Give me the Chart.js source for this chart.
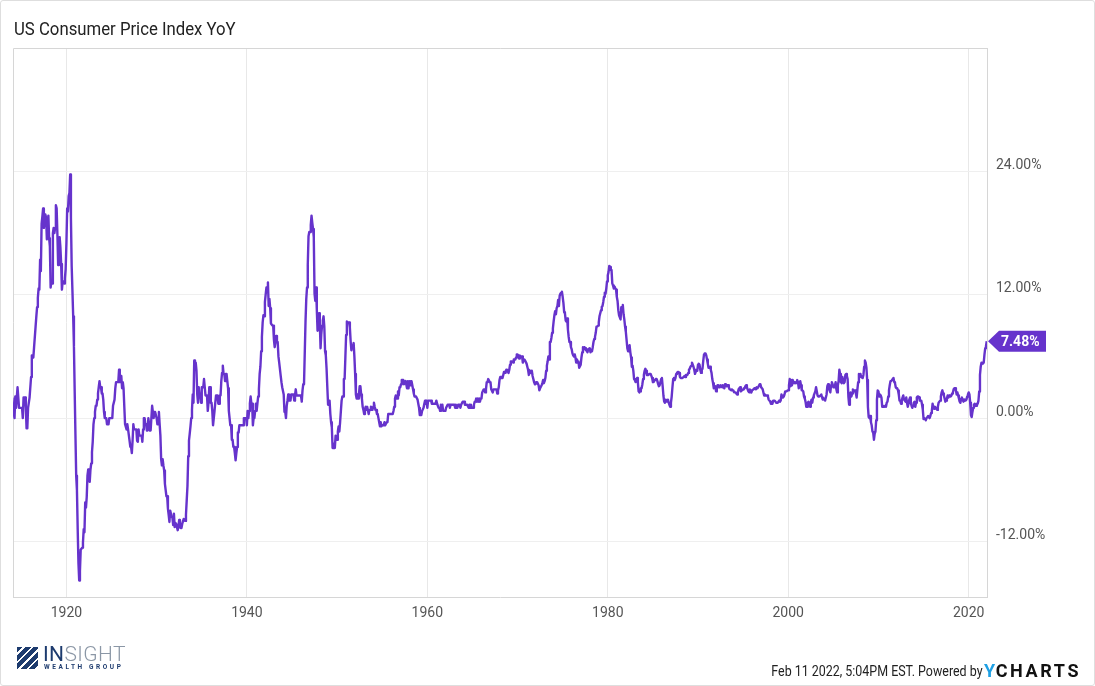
<!DOCTYPE html>
<html>
<head>
    <title>US Consumer Price Index YoY</title>
    <script src="https://cdn.jsdelivr.net/npm/chart.js"></script>
    <style>
        body { margin: 0; background: #fff; }
        #wrap { position: relative; width: 1095px; height: 686px; overflow: hidden; }
        #frame { position: absolute; left: 0; top: 0; width: 1095px; height: 686px; box-sizing: border-box; border: 1px solid #dedede; border-radius: 3px; pointer-events: none; }
        #title { position: absolute; left: 14px; top: 18px; font: 18px/21px Roboto, sans-serif; color: #222; transform: scaleX(0.93); transform-origin: left top; white-space: nowrap; }
        #stamp { position: absolute; right: 112px; top: 662px; font: 15px/18px Roboto, sans-serif; color: #222; transform: scaleX(0.83); transform-origin: right top; white-space: nowrap; }
        #ycharts { position: absolute; left: 984px; top: 660px; font: bold 18px/21px Roboto, sans-serif; letter-spacing: 2.6px; color: #111; white-space: nowrap; }
        #ycharts span { color: #1ea0e4; letter-spacing: 0.5px; }
        #logo { position: absolute; left: 17px; top: 647px; }
        #logo .mark { position: absolute; left: 0; top: 0; width: 21px; height: 22px; background: repeating-linear-gradient(135deg, #1d3b6e 0 4px, #fff 4px 6px); }
        #logo .name { position: absolute; left: 26px; top: -4px; font: 300 21px/22px Roboto, sans-serif; letter-spacing: 0.4px; white-space: nowrap; }
        #logo .name b { font-weight: 400; color: #1d3b6e; }
        #logo .name i { font-style: normal; color: #8b97a6; }
        #logo .sub { position: absolute; left: 27px; top: 16px; font: bold 6.5px/8px Roboto, sans-serif; letter-spacing: 2.6px; color: #1d3b6e; white-space: nowrap; }
    </style>
</head>
<body>
<div id="wrap">
    <canvas id="cpiChart" width="1095" height="686"></canvas>
    <div id="title">US Consumer Price Index YoY</div>
    <div id="logo">
        <div class="mark"></div>
        <div class="name"><b>IN</b><i>SIGHT</i></div>
        <div class="sub">WEALTH GROUP</div>
    </div>
    <div id="stamp">Feb 11 2022, 5:04PM EST. Powered by</div>
    <div id="ycharts"><span>Y</span>CHARTS</div>
    <div id="frame"></div>
</div>

<script>
    // Monthly YoY change (%), one array per decade, first value = Jan 1914
    const startYear = 1914;
    const yoy1910s = [
        2.0, 1.0, 1.0, 0.0, 2.1, 1.0, 1.0, 3.0, 2.0, 1.0, 1.0, 1.0,
        1.0, 1.0, 0.0, 2.0, 2.0, 2.0, 1.0, -1.0, -1.0, 1.0, 1.0, 2.0,
        3.0, 4.0, 6.1, 6.0, 5.9, 6.9, 6.9, 8.9, 9.9, 10.8, 11.7, 12.6,
        12.5, 15.4, 14.3, 18.9, 19.6, 20.4, 18.5, 19.3, 19.8, 19.5, 17.4, 18.1,
        19.7, 17.5, 16.7, 12.7, 13.3, 13.1, 18.0, 18.5, 18.0, 18.5, 20.7, 20.4,
        17.9, 14.9, 17.1, 17.6, 16.6, 15.0, 12.5, 13.3, 13.3, 13.1, 13.6, 14.5
    ];
    const yoy1920s = [
        17.0, 20.4, 20.1, 21.6, 21.9, 23.7, 19.5, 14.8, 12.4, 9.9, 7.0, 2.6,
        -1.6, -5.6, -7.0, -10.8, -14.1, -15.8, -14.9, -12.8, -12.7, -12.6, -12.1, -10.8,
        -11.1, -8.2, -8.7, -7.7, -5.6, -5.0, -5.2, -6.2, -5.0, -4.4, -3.3, -2.3,
        -0.6, 0.0, 0.6, 1.2, 1.2, 1.8, 2.4, 3.0, 3.6, 3.0, 3.0, 2.4,
        2.4, 1.8, 0.6, 0.0, 0.0, 0.0, -0.6, -0.6, -0.6, 0.0, 0.0, 0.0,
        0.0, 0.0, 1.2, 1.2, 1.8, 2.9, 3.5, 3.5, 3.5, 3.5, 4.7, 3.5,
        3.5, 4.1, 2.9, 3.5, 2.9, 1.1, -0.6, -0.6, -1.1, -0.6, -1.1, -1.1,
        -2.2, -2.8, -2.8, -3.4, -2.2, -0.6, -1.1, -1.1, -1.1, -1.1, -2.2, -2.3,
        -1.1, -1.7, -1.7, -1.7, -1.7, -2.3, -1.1, 0.0, 0.0, -0.6, -0.6, -1.2,
        -1.2, 0.0, -0.6, -1.2, -1.2, 0.0, 1.2, 1.2, 0.0, 0.6, 0.6, 0.6
    ];
    const yoy1930s = [
        0.0, -0.6, -0.6, 0.6, -0.6, -1.7, -4.0, -4.6, -4.0, -4.6, -5.1, -6.4,
        -7.0, -7.6, -7.6, -8.8, -9.4, -10.1, -9.0, -9.0, -9.6, -9.7, -10.4, -9.3,
        -10.6, -10.2, -10.3, -10.3, -10.9, -10.5, -9.9, -10.6, -10.7, -10.7, -10.3, -10.3,
        -9.8, -9.9, -10.0, -9.4, -8.0, -6.6, -3.7, -2.2, -1.5, -0.8, 0.0, 0.8,
        2.3, 1.5, 5.6, 5.4, 5.4, 4.6, 2.3, 1.5, 3.0, 2.3, 2.3, 1.5,
        3.0, 3.0, 3.0, 3.8, 3.8, 2.2, 2.2, 2.2, 0.7, 1.5, 3.0, 3.0,
        1.5, 1.5, 0.7, -0.7, -0.7, 0.7, 1.5, 2.2, 2.2, 2.2, 1.4, 1.4,
        2.2, 2.2, 3.6, 4.4, 5.1, 4.3, 4.3, 3.6, 4.3, 4.3, 3.6, 2.9,
        0.7, 0.0, -0.7, -0.7, -2.1, -2.1, -2.8, -2.8, -3.4, -4.1, -3.4, -2.8,
        -1.4, -1.4, -0.7, -0.7, -0.7, -0.7, -0.7, -0.7, 0.0, 0.0, 0.0, 0.0
    ];
    const yoy1940s = [
        -0.7, 0.7, 0.0, 0.7, 1.4, 2.1, 1.4, 1.4, -0.7, 0.0, 0.0, 0.7,
        1.4, 0.7, 1.4, 2.1, 2.8, 4.3, 5.0, 6.5, 7.9, 9.3, 10.0, 9.9,
        11.3, 12.0, 12.7, 12.6, 13.2, 10.9, 11.6, 10.7, 9.2, 9.1, 9.0, 9.0,
        7.6, 6.9, 7.4, 8.0, 7.4, 7.4, 6.0, 5.4, 5.4, 4.1, 3.5, 3.0,
        3.0, 2.3, 0.6, 0.6, 0.0, 1.2, 1.7, 2.3, 1.7, 1.7, 1.7, 2.3,
        2.3, 2.3, 2.3, 1.7, 2.2, 2.8, 2.2, 2.2, 2.2, 2.2, 2.2, 2.2,
        2.2, 1.6, 2.7, 3.3, 3.3, 3.3, 9.4, 11.6, 12.7, 14.9, 17.7, 18.1,
        18.1, 18.8, 19.7, 19.0, 18.4, 17.6, 12.1, 11.4, 12.7, 10.6, 8.5, 8.8,
        10.2, 9.3, 6.8, 8.2, 9.0, 9.5, 9.9, 8.9, 6.5, 6.1, 4.8, 3.0,
        1.3, 1.3, 1.7, 0.4, -0.4, -0.9, -2.9, -2.9, -2.5, -2.9, -1.7, -2.1
    ];
    const yoy1950s = [
        -2.1, -1.3, -0.8, -1.3, -0.4, -0.4, 1.7, 2.1, 2.1, 3.8, 3.8, 5.9,
        8.1, 9.4, 9.3, 9.3, 9.3, 8.8, 7.5, 6.6, 7.0, 6.9, 7.3, 6.0,
        4.3, 2.3, 1.9, 2.3, 1.9, 2.3, 3.1, 3.1, 2.3, 1.9, 1.1, 0.8,
        0.4, 0.8, 1.1, 0.8, 1.1, 1.1, 0.4, 0.8, 0.8, 1.1, 0.8, 0.8,
        1.1, 1.5, 1.1, 0.8, 0.8, 0.4, 0.4, 0.0, -0.4, -0.8, -0.4, -0.8,
        -0.7, -0.7, -0.7, -0.4, -0.7, -0.7, -0.4, -0.4, 0.4, 0.4, 0.4, 0.4,
        0.4, 0.4, 0.4, 0.7, 1.1, 1.9, 2.2, 1.9, 1.9, 2.6, 2.2, 3.0,
        3.0, 3.3, 3.7, 3.7, 3.7, 3.3, 3.3, 3.6, 3.3, 2.9, 3.6, 2.9,
        3.6, 3.2, 3.6, 3.6, 3.2, 2.8, 2.4, 2.1, 2.1, 2.1, 2.1, 1.8,
        1.4, 1.0, 0.3, 0.3, 0.3, 0.7, 0.7, 1.0, 1.4, 1.7, 1.4, 1.7
    ];
    const yoy1960s = [
        1.0, 1.7, 1.7, 1.7, 1.7, 1.7, 1.4, 1.4, 1.4, 1.4, 1.4, 1.4,
        1.7, 1.4, 1.4, 1.0, 1.0, 0.7, 1.3, 1.0, 1.3, 0.7, 0.7, 0.7,
        0.7, 1.0, 1.0, 1.3, 1.3, 1.3, 1.0, 1.3, 1.3, 1.3, 1.3, 1.3,
        1.3, 1.0, 1.3, 1.0, 1.0, 1.3, 1.3, 1.3, 1.0, 1.3, 1.3, 1.6,
        1.6, 1.6, 1.3, 1.3, 1.3, 1.3, 1.3, 1.0, 1.3, 1.0, 1.3, 1.0,
        1.0, 1.0, 1.3, 1.6, 1.6, 1.9, 1.6, 1.9, 1.6, 1.9, 1.6, 1.9,
        1.9, 2.5, 2.5, 2.8, 2.8, 2.5, 2.8, 3.5, 3.5, 3.8, 3.8, 3.5,
        3.5, 2.8, 2.8, 2.5, 2.8, 2.8, 2.8, 2.8, 2.8, 2.4, 2.7, 3.0,
        3.7, 4.0, 4.0, 3.9, 3.9, 4.2, 4.5, 4.4, 4.4, 4.7, 4.7, 4.7,
        4.4, 4.7, 5.2, 5.5, 5.5, 5.5, 5.4, 5.7, 5.7, 5.7, 5.9, 6.2
    ];
    const yoy1970s = [
        6.2, 6.1, 5.8, 6.1, 6.0, 6.0, 6.0, 5.4, 5.7, 5.7, 5.6, 5.6,
        5.3, 5.0, 4.7, 4.2, 4.4, 4.6, 4.4, 4.6, 4.1, 3.8, 3.5, 3.3,
        3.3, 3.5, 3.5, 3.5, 3.2, 2.7, 2.9, 2.9, 3.2, 3.4, 3.7, 3.4,
        3.6, 3.9, 4.6, 5.1, 5.5, 6.0, 5.7, 7.4, 7.4, 7.8, 8.3, 8.7,
        9.4, 10.0, 10.4, 10.1, 10.7, 10.9, 11.5, 10.9, 11.9, 12.1, 12.2, 12.3,
        11.8, 11.2, 10.3, 10.2, 9.5, 9.4, 9.7, 8.6, 7.9, 7.4, 7.4, 6.9,
        6.7, 6.3, 6.1, 6.0, 6.2, 5.9, 5.4, 5.7, 5.5, 5.5, 4.9, 4.9,
        5.2, 5.9, 6.4, 6.9, 6.7, 6.9, 6.8, 6.6, 6.6, 6.4, 6.7, 6.7,
        6.8, 6.4, 6.6, 6.5, 6.9, 7.4, 7.7, 7.9, 8.3, 8.9, 8.9, 9.0,
        9.3, 9.9, 10.2, 10.5, 10.8, 10.9, 11.3, 11.8, 12.2, 12.1, 12.6, 13.3
    ];
    const yoy1980s = [
        13.9, 14.2, 14.8, 14.7, 14.4, 14.4, 13.1, 12.9, 12.6, 12.8, 12.6, 12.5,
        11.8, 11.4, 10.5, 10.0, 9.8, 9.6, 10.8, 10.8, 11.0, 10.1, 9.6, 8.9,
        8.4, 7.6, 6.8, 6.5, 6.7, 7.1, 6.4, 5.9, 5.0, 5.1, 4.6, 3.8,
        3.7, 3.5, 3.6, 3.9, 3.5, 2.6, 2.5, 2.6, 2.9, 2.9, 3.3, 3.8,
        4.2, 4.6, 4.8, 4.6, 4.2, 4.2, 4.2, 4.3, 4.3, 4.3, 4.1, 3.9,
        3.5, 3.5, 3.7, 3.7, 3.8, 3.8, 3.6, 3.3, 3.1, 3.2, 3.5, 3.8,
        3.9, 3.1, 2.2, 1.6, 1.5, 1.8, 1.6, 1.6, 1.8, 1.5, 1.3, 1.1,
        1.5, 2.1, 3.0, 3.8, 3.9, 3.7, 3.9, 4.3, 4.4, 4.5, 4.5, 4.4,
        4.0, 3.9, 3.9, 3.9, 3.9, 4.0, 4.1, 4.0, 4.2, 4.2, 4.2, 4.4,
        4.7, 4.8, 5.0, 5.1, 5.4, 5.2, 5.0, 4.7, 4.3, 4.5, 4.7, 4.6
    ];
    const yoy1990s = [
        5.2, 5.3, 5.2, 4.7, 4.4, 4.7, 4.8, 5.6, 6.2, 6.3, 6.3, 6.1,
        5.7, 5.3, 4.9, 4.9, 5.0, 4.7, 4.4, 3.8, 3.4, 2.9, 3.0, 3.1,
        2.6, 2.8, 3.2, 3.2, 3.0, 3.1, 3.2, 3.1, 3.0, 3.2, 3.0, 2.9,
        3.3, 3.2, 3.1, 3.2, 3.2, 3.0, 2.8, 2.8, 2.7, 2.8, 2.7, 2.7,
        2.5, 2.5, 2.5, 2.4, 2.3, 2.5, 2.8, 2.9, 3.0, 2.6, 2.7, 2.7,
        2.8, 2.9, 2.9, 3.1, 3.2, 3.0, 2.8, 2.6, 2.5, 2.8, 2.6, 2.5,
        2.7, 2.7, 2.8, 2.9, 2.9, 2.8, 3.0, 2.9, 3.0, 3.0, 3.3, 3.3,
        3.0, 3.0, 2.8, 2.5, 2.2, 2.3, 2.2, 2.2, 2.2, 2.1, 1.8, 1.7,
        1.6, 1.4, 1.4, 1.4, 1.7, 1.7, 1.7, 1.6, 1.5, 1.5, 1.5, 1.6,
        1.7, 1.6, 1.7, 2.3, 2.1, 2.0, 2.1, 2.3, 2.6, 2.6, 2.6, 2.7
    ];
    const yoy2000s = [
        2.7, 3.2, 3.8, 3.1, 3.2, 3.7, 3.7, 3.4, 3.5, 3.4, 3.4, 3.4,
        3.7, 3.5, 2.9, 3.3, 3.6, 3.2, 2.7, 2.7, 2.6, 2.1, 1.9, 1.6,
        1.1, 1.1, 1.5, 1.6, 1.2, 1.1, 1.5, 1.8, 1.5, 2.0, 2.2, 2.4,
        2.6, 3.0, 3.0, 2.2, 2.1, 2.1, 2.1, 2.2, 2.3, 2.0, 1.8, 1.9,
        1.9, 1.7, 1.7, 2.3, 3.1, 3.3, 3.0, 2.7, 2.5, 3.2, 3.5, 3.3,
        3.0, 3.0, 3.1, 3.5, 2.8, 2.5, 3.2, 3.6, 4.7, 4.3, 3.5, 3.4,
        4.0, 3.6, 3.4, 3.5, 4.2, 4.3, 4.1, 3.8, 2.1, 1.3, 2.0, 2.5,
        2.1, 2.4, 2.8, 2.6, 2.7, 2.7, 2.4, 2.0, 2.8, 3.5, 4.3, 4.1,
        4.3, 4.0, 4.0, 3.9, 4.2, 5.0, 5.6, 5.4, 4.9, 3.7, 1.1, 0.1,
        0.0, 0.2, -0.4, -0.7, -1.3, -1.4, -2.1, -1.5, -1.3, -0.2, 1.8, 2.7
    ];
    const yoy2010s = [
        2.6, 2.1, 2.3, 2.2, 2.0, 1.1, 1.2, 1.1, 1.1, 1.2, 1.1, 1.5,
        1.6, 2.1, 2.7, 3.2, 3.6, 3.6, 3.6, 3.8, 3.9, 3.5, 3.4, 3.0,
        2.9, 2.9, 2.7, 2.3, 1.7, 1.7, 1.4, 1.7, 2.0, 2.2, 1.8, 1.7,
        1.6, 2.0, 1.5, 1.1, 1.4, 1.8, 2.0, 1.5, 1.2, 1.0, 1.2, 1.5,
        1.6, 1.1, 1.5, 2.0, 2.1, 2.1, 2.0, 1.7, 1.7, 1.7, 1.3, 0.8,
        -0.1, 0.0, -0.1, -0.2, 0.0, 0.1, 0.2, 0.2, 0.0, 0.2, 0.5, 0.7,
        1.4, 1.0, 0.9, 1.1, 1.0, 1.0, 0.8, 1.1, 1.5, 1.6, 1.7, 2.1,
        2.5, 2.7, 2.4, 2.2, 1.9, 1.6, 1.7, 1.9, 2.2, 2.0, 2.2, 2.1,
        2.1, 2.2, 2.4, 2.5, 2.8, 2.9, 2.9, 2.7, 2.3, 2.5, 2.2, 1.9,
        1.6, 1.5, 1.9, 2.0, 1.8, 1.6, 1.8, 1.7, 1.7, 1.8, 2.1, 2.3
    ];
    const yoy2020s = [
        2.5, 2.3, 1.5, 0.3, 0.1, 0.6, 1.0, 1.3, 1.4, 1.2, 1.2, 1.4,
        1.4, 1.7, 2.6, 4.2, 5.0, 5.4, 5.4, 5.3, 5.4, 6.2, 6.8, 7.0,
        7.48
    ];

    const xTicks = [1920, 1940, 1960, 1980, 2000, 2020];
    const yTicks = [-12, 0, 12, 24];

    const allValues = [].concat(yoy1910s, yoy1920s, yoy1930s, yoy1940s, yoy1950s,
        yoy1960s, yoy1970s, yoy1980s, yoy1990s, yoy2000s, yoy2010s, yoy2020s);
    const points = allValues.map((v, i) => ({ x: startYear + i / 12, y: v }));

    const lineColor = '#6633cc';

    // frame round the plot area (left + top edges)
    const framePlugin = {
        id: 'frame',
        beforeDatasetsDraw(chart) {
            const a = chart.chartArea, c = chart.ctx;
            c.save();
            c.strokeStyle = '#d6d6d6';
            c.lineWidth = 1;
            c.beginPath();
            c.moveTo(a.left + 0.5, a.bottom);
            c.lineTo(a.left + 0.5, a.top + 0.5);
            c.lineTo(a.right, a.top + 0.5);
            c.stroke();
            c.restore();
        }
    };

    // last value tag on the right axis
    const lastTag = {
        id: 'lastTag',
        afterDatasetsDraw(chart) {
            const meta = chart.getDatasetMeta(0);
            const pt = meta.data[meta.data.length - 1];
            const val = allValues[allValues.length - 1];
            const c = chart.ctx, x0 = chart.chartArea.right + 1, y = pt.y;
            c.save();
            c.fillStyle = lineColor;
            c.beginPath();
            c.moveTo(x0, y);
            c.lineTo(x0 + 11, y - 10.5);
            c.lineTo(1046, y - 10.5);
            c.lineTo(1046, y + 10.5);
            c.lineTo(x0 + 11, y + 10.5);
            c.closePath();
            c.fill();
            c.fillStyle = '#fff';
            c.font = 'bold 14px Roboto';
            c.textBaseline = 'middle';
            c.textAlign = 'left';
            c.fillText(val.toFixed(2) + '%', x0 + 13, y + 1);
            c.restore();
        }
    };

    const ctx = document.getElementById('cpiChart').getContext('2d');
    new Chart(ctx, {
        type: 'line',
        data: {
            datasets: [{
                data: points,
                borderColor: lineColor,
                borderWidth: 2.4,
                borderJoinStyle: 'round',
                pointRadius: 0,
                tension: 0,
                fill: false
            }]
        },
        options: {
            responsive: false,
            animation: false,
            events: [],
            layout: { padding: { left: 13, top: 48, right: 0, bottom: 0 } },
            plugins: { legend: { display: false }, tooltip: { enabled: false } },
            scales: {
                x: {
                    type: 'linear',
                    min: 1914.08,
                    max: 2022.03,
                    afterBuildTicks: s => { s.ticks = xTicks.map(v => ({ value: v })); },
                    afterFit: s => { s.height = 89; },
                    grid: { color: '#e8e8e8', drawTicks: false },
                    border: { color: '#d6d6d6' },
                    ticks: {
                        padding: 8,
                        maxRotation: 0,
                        color: '#555',
                        font: { family: 'Roboto', size: 14 },
                        callback: v => String(v)
                    }
                },
                y: {
                    position: 'right',
                    min: -17.4,
                    max: 36,
                    afterBuildTicks: s => { s.ticks = yTicks.map(v => ({ value: v })); },
                    afterFit: s => { s.width = 108; },
                    grid: { color: '#efefef', drawTicks: false },
                    border: { color: '#d6d6d6' },
                    ticks: {
                        padding: 9,
                        labelOffset: -6,
                        color: '#555',
                        font: { family: 'Roboto', size: 14 },
                        callback: v => v.toFixed(2) + '%'
                    }
                }
            }
        },
        plugins: [framePlugin, lastTag]
    });
</script>
</body>
</html>
